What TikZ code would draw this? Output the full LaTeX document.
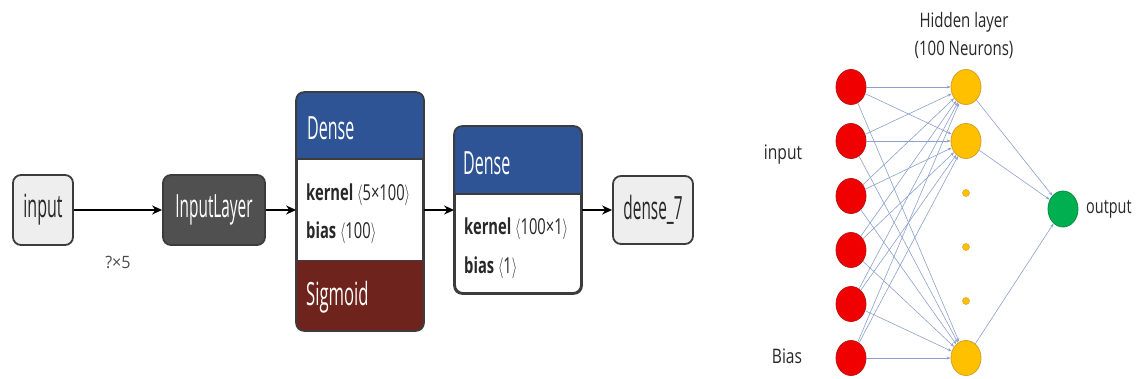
\documentclass[tikz,border=0pt]{standalone}
\usepackage{fontspec}
\usepackage{graphicx}
\setmainfont{Open Sans}
\usetikzlibrary{arrows.meta,shapes.geometric}
\definecolor{boxgray}{RGB}{238,238,238}
\definecolor{boxedge}{RGB}{60,60,60}
\definecolor{layergray}{RGB}{80,80,80}
\definecolor{denseblue}{RGB}{46,84,150}
\definecolor{sigred}{RGB}{110,36,28}
\definecolor{edgeblue}{RGB}{140,160,205}
\definecolor{nred}{RGB}{240,0,0}
\definecolor{nredd}{RGB}{190,20,20}
\definecolor{nyel}{RGB}{255,192,0}
\definecolor{nyeld}{RGB}{215,160,40}
\definecolor{ngreen}{RGB}{0,176,80}
\definecolor{txt}{RGB}{40,40,40}
\newcommand{\sqz}[3]{\fontsize{#1}{#1}\selectfont\scalebox{#2}[1]{#3}}
\begin{document}
\begin{tikzpicture}[x=1pt,y=-1pt,
  lbox/.style={draw=boxedge, line width=1.8, rounded corners=8, fill=boxgray, inner sep=0, text=txt},
  dbox/.style={draw=boxedge, line width=1.8, rounded corners=8, fill=layergray, inner sep=0, text=white},
  frame/.style={draw=boxedge, line width=1.8, rounded corners=8, fill=white, inner sep=0},
  arr/.style={-{Stealth[length=10,width=9]}, line width=2},
  conn/.style={draw=edgeblue, line width=0.6, -{Stealth[length=4,width=3]}},
  rnode/.style={ellipse, minimum width=30, minimum height=35, inner sep=0, line width=0.8},
  dotn/.style={circle, minimum size=7, inner sep=0, fill=nyel, draw=nyeld, line width=0.5},
  rtext/.style={text=txt, inner sep=0}
]
\useasboundingbox (0,0) rectangle (1137,379);
% ---------- left diagram ----------
\node[lbox, minimum width=60, minimum height=70] (in) at (43,210) {\sqz{32}{0.5}{input}};
\node[dbox, minimum width=102, minimum height=70] (il) at (214,210) {\sqz{32}{0.48}{InputLayer}};
\node[text=black!70, inner sep=0] (shape) at (118,262) {\sqz{17}{0.95}{?×5}};

% dense 1
\node[frame, minimum width=126, minimum height=237] (d1) at (360,211.5) {};
\fill[denseblue] ([yshift=-67]d1.north west) [rounded corners=8]-- (d1.north west) -- (d1.north east) [sharp corners]-- ([yshift=-67]d1.north east) -- cycle;
\fill[sigred] ([yshift=70]d1.south west) [rounded corners=8]-- (d1.south west) -- (d1.south east) [sharp corners]-- ([yshift=70]d1.south east) -- cycle;
\draw[boxedge, line width=1.2] ([yshift=-67]d1.north west) -- ([yshift=-67]d1.north east);
\draw[boxedge, line width=1.2] ([yshift=70]d1.south west) -- ([yshift=70]d1.south east);
\draw[boxedge, line width=1.8, rounded corners=8] (d1.north west) rectangle (d1.south east);
\node[anchor=west, text=white, inner sep=0] (d1h) at (307,128) {\sqz{32}{0.5}{Dense}};
\node[anchor=west, text=txt, inner sep=0] (d1k) at (306,195) {\sqz{22}{0.67}{\textbf{kernel} $\langle$5×100$\rangle$}};
\node[anchor=west, text=txt, inner sep=0] (d1b) at (306,233) {\sqz{22}{0.67}{\textbf{bias} $\langle$100$\rangle$}};
\node[anchor=west, text=white, inner sep=0] (d1s) at (306,297) {\sqz{32}{0.52}{Sigmoid}};

% dense 2
\node[frame, minimum width=126, minimum height=166] (d2) at (518,210) {};
\fill[denseblue] ([yshift=-68]d2.north west) [rounded corners=8]-- (d2.north west) -- (d2.north east) [sharp corners]-- ([yshift=-68]d2.north east) -- cycle;
\draw[boxedge, line width=1.2] ([yshift=-68]d2.north west) -- ([yshift=-68]d2.north east);
\draw[boxedge, line width=1.8, rounded corners=8] (d2.north west) rectangle (d2.south east);
\node[anchor=west, text=white, inner sep=0] (d2h) at (463,163) {\sqz{32}{0.5}{Dense}};
\node[anchor=west, text=txt, inner sep=0] (d2k) at (464,229) {\sqz{22}{0.67}{\textbf{kernel} $\langle$100×1$\rangle$}};
\node[anchor=west, text=txt, inner sep=0] (d2b) at (464,268) {\sqz{22}{0.67}{\textbf{bias} $\langle$1$\rangle$}};

\node[lbox, minimum width=80, minimum height=68] (d7) at (653,210) {\sqz{32}{0.48}{dense\_7}};

\draw[arr] (in.east) -- (il.west);
\draw[arr] (il.east) -- (il.east -| d1.west);
\draw[arr] (il.east -| d1.east) -- (d2.west);
\draw[arr] (d2.east) -- (d7.west);

% ---------- right diagram ----------
\foreach \i/\y in {1/87,2/141,3/196,4/250,5/304,6/358}
  \node[rnode, fill=nred, draw=nredd] (R\i) at (851,\y) {};
\node[rnode, fill=nyel, draw=nyeld] (H1) at (966,87) {};
\node[rnode, fill=nyel, draw=nyeld] (H2) at (966,141) {};
\node[rnode, fill=nyel, draw=nyeld] (H3) at (966,358) {};
\node[dotn] (D1) at (966,193) {};
\node[dotn] (D2) at (966,247) {};
\node[dotn] (D3) at (966,301) {};
\node[rnode, fill=ngreen, draw=ngreen!80!black, minimum height=36] (O) at (1063,209) {};

\foreach \i in {1,...,6}
  \foreach \h in {H1,H2,H3}
    \draw[conn] (R\i) -- (\h);
\foreach \h in {H1,H2,H3}
  \draw[conn] (\h) -- (O);

\node[rtext] (hl1) at (964,22) {\sqz{20}{0.75}{Hidden layer}};
\node[rtext] (hl2) at (964,50) {\sqz{20}{0.75}{(100 Neurons)}};
\node[rtext] (lin) at (783,155) {\sqz{20}{0.78}{input}};
\node[rtext] (lbias) at (787,356) {\sqz{20}{0.78}{Bias}};
\node[rtext, anchor=west] (lout) at (1086,209) {\sqz{20}{0.72}{output}};
\end{tikzpicture}
\end{document}
